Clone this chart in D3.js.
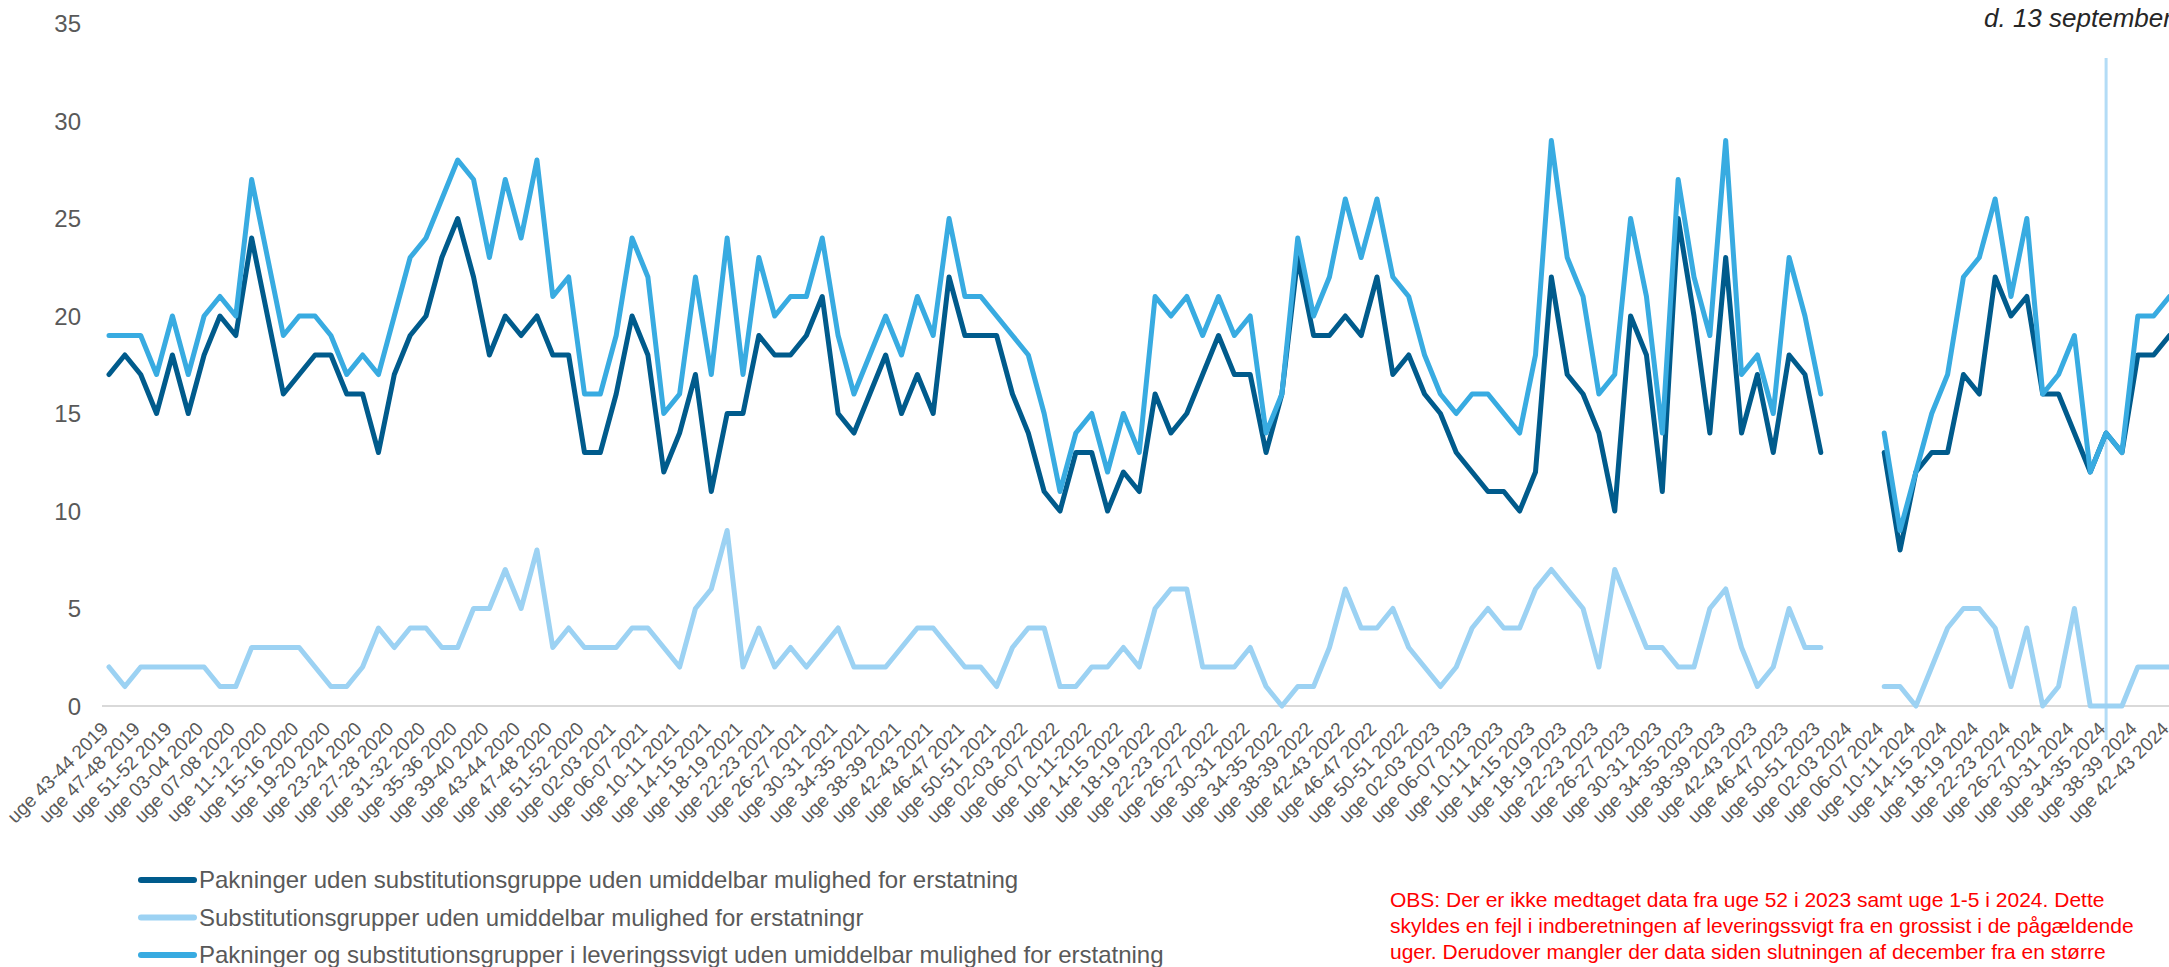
<!DOCTYPE html>
<html>
<head>
<meta charset="utf-8">
<script src="https://cdnjs.cloudflare.com/ajax/libs/d3/7.8.5/d3.min.js"></script>
<style>
  body { margin: 0; background: #fff; }
  svg { display: block; font-family: "Liberation Sans", Arial, sans-serif; }
</style>
</head>
<body>
<div id="chart"></div>
<script>
// two-week periods, one category each
var weeks = [
  "43-44 2019","45-46 2019","47-48 2019","49-50 2019","51-52 2019",
  "01-02 2020","03-04 2020","05-06 2020","07-08 2020","09-10 2020","11-12 2020","13-14 2020","15-16 2020","17-18 2020",
  "19-20 2020","21-22 2020","23-24 2020","25-26 2020","27-28 2020","29-30 2020","31-32 2020","33-34 2020","35-36 2020",
  "37-38 2020","39-40 2020","41-42 2020","43-44 2020","45-46 2020","47-48 2020","49-50 2020","51-52 2020",
  "53-01 2021",
  "02-03 2021","04-05 2021","06-07 2021","08-09 2021","10-11 2021","12-13 2021","14-15 2021","16-17 2021","18-19 2021",
  "20-21 2021","22-23 2021","24-25 2021","26-27 2021","28-29 2021","30-31 2021","32-33 2021","34-35 2021","36-37 2021",
  "38-39 2021","40-41 2021","42-43 2021","44-45 2021","46-47 2021","48-49 2021","50-51 2021",
  "52-01 2022",
  "02-03 2022","04-05 2022","06-07 2022","08-09 2022","10-11-2022","12-13 2022","14-15 2022","16-17 2022","18-19 2022",
  "20-21 2022","22-23 2022","24-25 2022","26-27 2022","28-29 2022","30-31 2022","32-33 2022","34-35 2022","36-37 2022",
  "38-39 2022","40-41 2022","42-43 2022","44-45 2022","46-47 2022","48-49 2022","50-51 2022",
  "52-01 2023",
  "02-03 2023","04-05 2023","06-07 2023","08-09 2023","10-11 2023","12-13 2023","14-15 2023","16-17 2023","18-19 2023",
  "20-21 2023","22-23 2023","24-25 2023","26-27 2023","28-29 2023","30-31 2023","32-33 2023","34-35 2023","36-37 2023",
  "38-39 2023","40-41 2023","42-43 2023","44-45 2023","46-47 2023","48-49 2023","50-51 2023",
  "52-01 2024",
  "02-03 2024","04-05 2024","06-07 2024","08-09 2024","10-11 2024","12-13 2024","14-15 2024","16-17 2024","18-19 2024",
  "20-21 2024","22-23 2024","24-25 2024","26-27 2024","28-29 2024","30-31 2024","32-33 2024","34-35 2024","36-37 2024",
  "38-39 2024","40-41 2024","42-43 2024"
];

// null = no data (uge 52 2023 - uge 5 2024)
var pakninger = [
  17,18,17,15,18,15,18,20,19,24,
  20,16,17,18,18,16,16,13,17,19,
  20,23,25,22,18,20,19,20,18,18,
  13,13,16,20,18,12,14,17,11,15,
  15,19,18,18,19,21,15,14,16,18,
  15,17,15,22,19,19,19,16,14,11,
  10,13,13,10,12,11,16,14,15,17,
  19,17,17,13,16,23,19,19,20,19,
  22,17,18,16,15,13,12,11,11,10,
  12,22,17,16,14,10,20,18,11,25,
  20,14,23,14,17,13,18,17,13,null,
  null,null,13,8,12,13,13,17,16,22,
  20,21,16,16,14,12,14,13,18,18,
  19
];
var substitution = [
  2,1,2,2,2,2,2,1,1,3,
  3,3,3,2,1,1,2,4,3,4,
  4,3,3,5,5,7,5,8,3,4,
  3,3,3,4,4,3,2,5,6,9,
  2,4,2,3,2,3,4,2,2,2,
  3,4,4,3,2,2,1,3,4,4,
  1,1,2,2,3,2,5,6,6,2,
  2,2,3,1,0,1,1,3,6,4,
  4,5,3,2,1,2,4,5,4,4,
  6,7,6,5,2,7,5,3,3,2,
  2,5,6,3,1,2,5,3,3,null,
  null,null,1,1,0,2,4,5,5,4,
  1,4,0,1,5,0,0,0,2,2,
  2
];
var samlet = [
  19,19,19,17,20,17,20,21,20,27,
  23,19,20,20,19,17,18,17,20,23,
  24,26,28,27,23,27,24,28,21,22,
  16,16,19,24,22,15,16,22,17,24,
  17,23,20,21,21,24,19,16,18,20,
  18,21,19,25,21,21,20,19,18,15,
  11,14,15,12,15,13,21,20,21,19,
  21,19,20,14,16,24,20,22,26,23,
  26,22,21,18,16,15,16,16,15,14,
  18,29,23,21,16,17,25,21,14,27,
  22,19,29,17,18,15,23,20,16,null,
  null,null,14,9,12,15,17,22,23,26,
  21,25,16,17,19,12,14,13,20,20,
  21
];

var seriesNames = [
  "Pakninger uden substitutionsgruppe uden umiddelbar mulighed for erstatning",
  "Substitutionsgrupper uden umiddelbar mulighed for erstatningr",
  "Pakninger og substitutionsgrupper i leveringssvigt uden umiddelbar mulighed for erstatning"
];
var seriesColors = ["#005b8c", "#9cd2f3", "#38abe1"];
var yTicks = [0, 5, 10, 15, 20, 25, 30, 35];
var markerWeek = "34-35 2024";
var dateNote = "d. 13 september 2024";
var obsLines = [
  "OBS: Der er ikke medtaget data fra uge 52 i 2023 samt uge 1-5 i 2024. Dette",
  "skyldes en fejl i indberetningen af leveringssvigt fra en grossist i de pågældende",
  "uger. Derudover mangler der data siden slutningen af december fra en større"
];

var width = 2169, height = 967;
var textGrey = "#595959";

var svg = d3.select("#chart").append("svg")
  .attr("width", width)
  .attr("height", height);

svg.append("rect").attr("width", width).attr("height", height).attr("fill", "#fff");

var x = d3.scalePoint().domain(weeks).range([109, 2169.5]);
var y = d3.scaleLinear().domain([0, 35]).range([706, 23.5]);

// baseline
svg.append("line")
  .attr("x1", 102).attr("x2", width)
  .attr("y1", y(0)).attr("y2", y(0))
  .attr("stroke", "#d9d9d9").attr("stroke-width", 2);

// y axis
var yAxis = svg.append("g")
  .attr("transform", "translate(81,0)")
  .call(d3.axisLeft(y).tickValues(yTicks).tickSize(0).tickPadding(0));
yAxis.select(".domain").remove();
yAxis.selectAll("text")
  .attr("fill", textGrey)
  .style("font-size", "24px")
  .attr("dy", "0.35em");

// x axis, every other period labelled
var xAxis = svg.append("g")
  .attr("transform", "translate(0," + y(0) + ")")
  .call(d3.axisBottom(x)
    .tickValues(weeks.filter(function(d, i){ return i % 2 == 0; }))
    .tickSize(0)
    .tickFormat(function(d){ return "uge " + d; }));
xAxis.select(".domain").remove();
xAxis.selectAll("text")
  .attr("fill", textGrey)
  .style("font-size", "19px")
  .attr("text-anchor", "end")
  .attr("x", 0).attr("y", 0).attr("dy", null)
  .attr("transform", "translate(0,24) rotate(-45)");

// marker line
svg.append("line")
  .attr("x1", x(markerWeek)).attr("x2", x(markerWeek))
  .attr("y1", 58).attr("y2", 740)
  .attr("stroke", "#b3dcf6").attr("stroke-width", 3);

var line = d3.line()
  .defined(function(d){ return d != null; })
  .x(function(d, i){ return x(weeks[i]); })
  .y(function(d){ return y(d); });

var allSeries = [pakninger, substitution, samlet];
svg.selectAll("path.series")
  .data(allSeries)
  .enter()
  .append("path")
  .attr("class", "series")
  .attr("d", line)
  .attr("fill", "none")
  .attr("stroke", function(d, i){ return seriesColors[i]; })
  .attr("stroke-width", 5)
  .attr("stroke-linejoin", "round")
  .attr("stroke-linecap", "round");

// legend
var legend = svg.selectAll("g.legend")
  .data(seriesNames)
  .enter()
  .append("g")
  .attr("class", "legend")
  .attr("transform", function(d, i){ return "translate(141," + (880 + i * 37.5) + ")"; });
legend.append("line")
  .attr("x1", 0).attr("x2", 53)
  .attr("stroke", function(d, i){ return seriesColors[i]; })
  .attr("stroke-width", 6)
  .attr("stroke-linecap", "round");
legend.append("text")
  .attr("x", 58)
  .attr("dy", "0.35em")
  .attr("fill", textGrey)
  .style("font-size", "24px")
  .text(function(d){ return d; });

// note, top right
svg.append("text")
  .attr("x", 1984).attr("y", 27)
  .attr("fill", "#262626")
  .style("font-size", "26px")
  .style("font-style", "italic")
  .text(dateNote);

// red remark
svg.append("g").selectAll("text")
  .data(obsLines)
  .enter()
  .append("text")
  .attr("x", 1390)
  .attr("y", function(d, i){ return 907 + i * 26; })
  .attr("fill", "#ff0000")
  .style("font-size", "21px")
  .text(function(d){ return d; });
</script>
</body>
</html>
